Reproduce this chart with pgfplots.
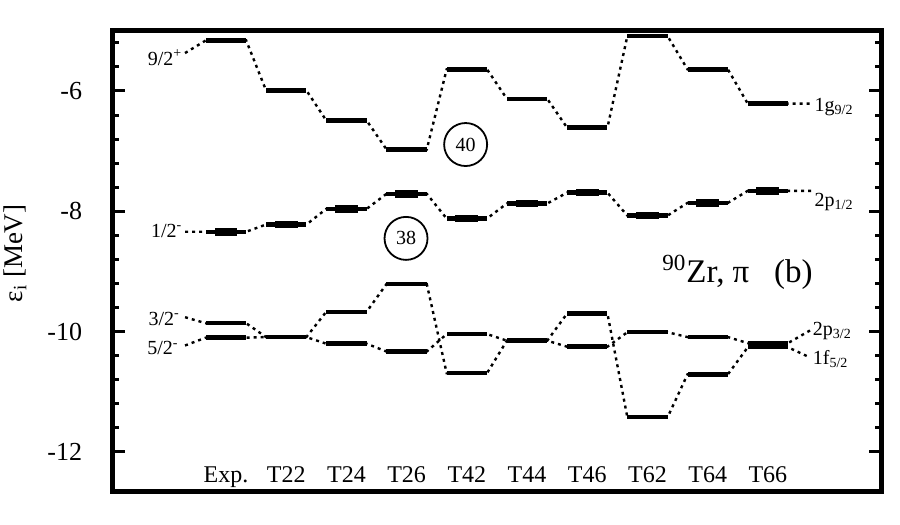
\documentclass[border=0pt]{standalone}
\usepackage{fontspec}
\setmainfont{Liberation Serif}
\usepackage{pgfplots}
\pgfplotsset{compat=1.18}
\begin{document}
\begin{tikzpicture}
\path[use as bounding box] (-56.25pt,-16.65pt) rectangle (393.75pt,245.85pt);
\begin{axis}[
  at={(0pt,0pt)}, anchor=south west,
  scale only axis, width=384.6pt, height=230.45pt,
  xmin=-1.885, xmax=10.89, ymin=-12.66, ymax=-5.0,
  clip=false,
  axis line style={line width=2.5pt},
  ytick={-12,-10,-8,-6},
  yticklabels={-12,-10,-8,-6},
  minor ytick={-11.6,-11.2,-10.8,-10.4,-9.6,-9.2,-8.8,-8.4,-7.6,-7.2,-6.8,-6.4,-5.6,-5.2},
  major tick length=6.2pt, minor tick length=3.5pt,
  ytick style={line width=1.5pt, black},
  every minor tick/.append style={line width=1.5pt, black},
  xtick={0,1,2,3,4,5,6,7,8,9},
  xticklabels={Exp.,T22,T24,T26,T42,T44,T46,T62,T64,T66},
  xtick style={draw=none},
  xticklabel style={anchor=base, inner sep=0pt, yshift=4.7pt, font=\fontsize{12}{14}\selectfont},
  yticklabel style={anchor=east, inner sep=0pt, xshift=-15pt, font=\fontsize{13}{15}\selectfont},
  conn/.style={black, line width=1.2pt, dash pattern=on 1.5pt off 2pt},
  lev/.style={draw=none, mark=none, error bars/.cd, x dir=both, x fixed=0.335, error mark=none, error bar style={draw=black, line width=2.2pt, solid}},
  levthick/.style={draw=none, mark=none, error bars/.cd, x dir=both, x fixed=0.19, error mark=none, error bar style={draw=black, line width=3.8pt, solid}},
]
% 1g9/2 connectors
\addplot[conn] coordinates {(-0.68,-5.37) (-0.335,-5.16) (0.335,-5.16) (0.665,-5.99) (1.335,-5.99) (1.665,-6.49) (2.335,-6.49) (2.665,-6.97) (3.335,-6.97) (3.665,-5.64) (4.335,-5.64) (4.665,-6.13) (5.335,-6.13) (5.665,-6.61) (6.335,-6.61) (6.665,-5.09) (7.335,-5.09) (7.665,-5.64) (8.335,-5.64) (8.665,-6.21) (9.335,-6.21) (9.72,-6.21)};
% 2p1/2 connectors
\addplot[conn] coordinates {(-0.68,-8.34) (-0.335,-8.34) (0.335,-8.34) (0.665,-8.22) (1.335,-8.22) (1.665,-7.96) (2.335,-7.96) (2.665,-7.71) (3.335,-7.71) (3.665,-8.12) (4.335,-8.12) (4.665,-7.87) (5.335,-7.87) (5.665,-7.69) (6.335,-7.69) (6.665,-8.07) (7.335,-8.07) (7.665,-7.86) (8.335,-7.86) (8.665,-7.66) (9.335,-7.66) (9.72,-7.66)};
% series A (3/2-)
\addplot[conn] coordinates {(-0.68,-9.76) (-0.335,-9.86) (0.335,-9.86) (0.665,-10.09) (1.335,-10.09) (1.665,-9.67) (2.335,-9.67) (2.665,-9.21) (3.335,-9.21) (3.665,-10.69) (4.335,-10.69) (4.665,-10.15) (5.335,-10.15) (5.665,-9.70) (6.335,-9.70) (6.665,-11.42) (7.335,-11.42) (7.665,-10.71) (8.335,-10.71) (8.665,-10.26) (9.335,-10.26) (9.70,-10.43)};
% series B (5/2-)
\addplot[conn] coordinates {(-0.68,-10.23) (-0.335,-10.10) (0.335,-10.10) (0.665,-10.09) (1.335,-10.09) (1.665,-10.20) (2.335,-10.20) (2.665,-10.33) (3.335,-10.33) (3.665,-10.04) (4.335,-10.04) (4.665,-10.15) (5.335,-10.15) (5.665,-10.25) (6.335,-10.25) (6.665,-10.01) (7.335,-10.01) (7.665,-10.09) (8.335,-10.09) (8.665,-10.19) (9.335,-10.19) (9.70,-9.98)};
% levels
\addplot[lev] coordinates {(0,-5.16) (1,-5.99) (2,-6.49) (3,-6.97) (4,-5.64) (5,-6.13) (6,-6.61) (7,-5.09) (8,-5.64) (9,-6.21)};
\addplot[lev] coordinates {(0,-8.34) (1,-8.22) (2,-7.96) (3,-7.71) (4,-8.12) (5,-7.87) (6,-7.69) (7,-8.07) (8,-7.86) (9,-7.66)};
\addplot[levthick] coordinates {(0,-8.34) (1,-8.22) (2,-7.96) (3,-7.71) (4,-8.12) (5,-7.87) (6,-7.69) (7,-8.07) (8,-7.86) (9,-7.66)};
\addplot[lev] coordinates {(0,-9.86) (1,-10.09) (2,-9.67) (3,-9.21) (4,-10.69) (5,-10.15) (6,-9.70) (7,-11.42) (8,-10.71) (9,-10.26)};
\addplot[lev] coordinates {(0,-10.10) (1,-10.09) (2,-10.20) (3,-10.33) (4,-10.04) (5,-10.15) (6,-10.25) (7,-10.01) (8,-10.09) (9,-10.19)};
% labels
\begingroup
\fontsize{12.5}{14}\selectfont
\node[anchor=base east, inner sep=0pt] at (axis cs:-0.72,-5.57) {9/2\textsuperscript{+}};
\node[anchor=base east, inner sep=0pt] at (axis cs:-0.72,-8.43) {1/2\textsuperscript{-}};
\node[anchor=base east, inner sep=0pt] at (axis cs:-0.76,-9.89) {3/2\textsuperscript{-}};
\node[anchor=base east, inner sep=0pt] at (axis cs:-0.78,-10.38) {5/2\textsuperscript{-}};
\node[anchor=base west, inner sep=0pt] at (axis cs:9.77,-6.34) {1g\textsubscript{9/2}};
\node[anchor=base west, inner sep=0pt] at (axis cs:9.77,-7.92) {2p\textsubscript{1/2}};
\node[anchor=base west, inner sep=0pt] at (axis cs:9.74,-10.07) {2p\textsubscript{3/2}};
\node[anchor=base west, inner sep=0pt] at (axis cs:9.74,-10.54) {1f\textsubscript{5/2}};
\node[circle, draw, line width=0.9pt, minimum size=21.5pt, inner sep=0pt] at (axis cs:3.98,-6.89) {40};
\node[circle, draw, line width=0.9pt, minimum size=21.5pt, inner sep=0pt] at (axis cs:2.99,-8.45) {38};
\endgroup
\node[anchor=base west, inner sep=0pt, font=\fontsize{16.5}{19}\selectfont] at (axis cs:7.24,-9.19) {\textsuperscript{90}Zr, π\ \ \ (b)};
\node[rotate=90, font=\fontsize{13.5}{15}\selectfont] at (axis description cs:-0.127,0.517) {ε\textsubscript{i} [MeV]};
\end{axis}
\end{tikzpicture}
\end{document}
